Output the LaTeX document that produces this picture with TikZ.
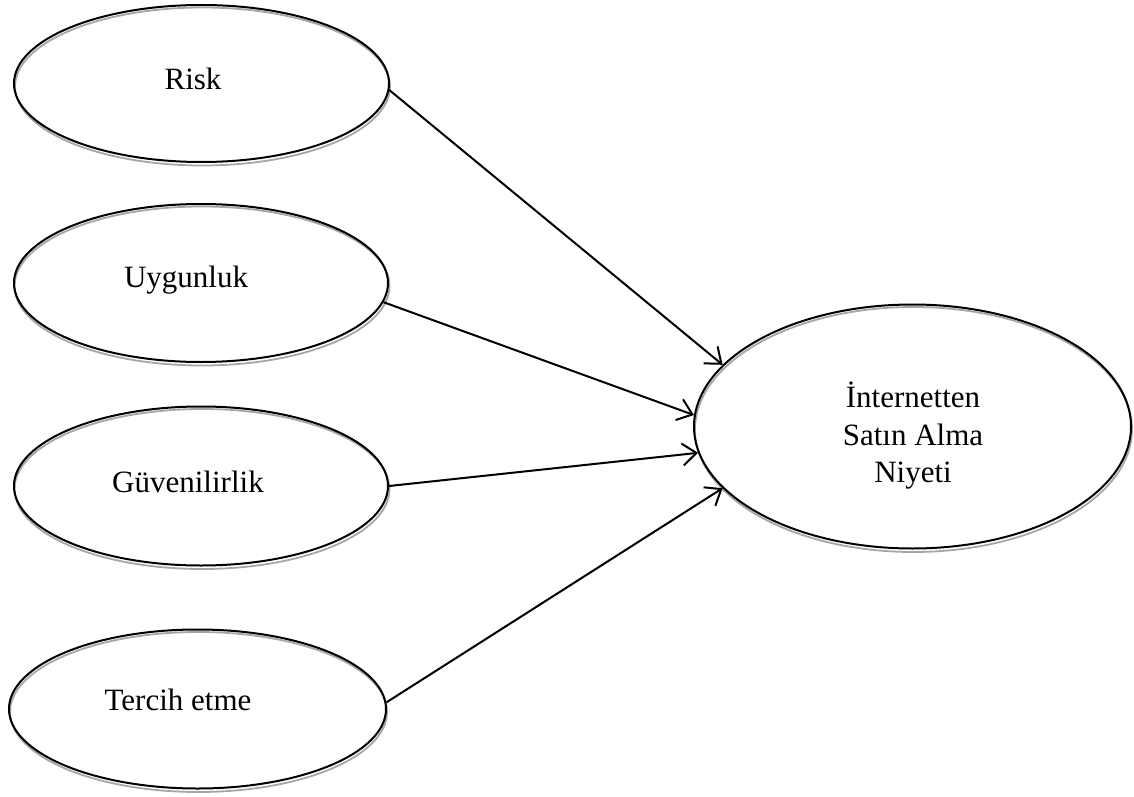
\documentclass[tikz,border=0pt]{standalone}
\usepackage{fontspec}
\setmainfont{Liberation Serif}
\usetikzlibrary{arrows.meta,shapes.geometric}
\begin{document}
\begin{tikzpicture}[x=1pt,y=-1pt,
  oval/.style={ellipse,draw=black,line width=2pt,inner sep=0pt},
  ovalshadow/.style={draw=gray!70,line width=1.8pt},
  lbl/.style={font=\fontsize{31}{37.5}\selectfont,inner sep=0pt,align=center},
  conn/.style={line width=2pt,-{Straight Barb[length=14pt,width=22pt,line width=2pt]}}]
\useasboundingbox (0,0) rectangle (1134,797);
% shadows
\draw[ovalshadow] (202.5,86.5) ellipse [x radius=187.5, y radius=79];
\draw[ovalshadow] (202,286) ellipse [x radius=187.5, y radius=79.5];
\draw[ovalshadow] (202,489) ellipse [x radius=187.5, y radius=80];
\draw[ovalshadow] (198.5,712) ellipse [x radius=188.5, y radius=80];
\draw[ovalshadow] (913.5,429.5) ellipse [x radius=218.5, y radius=122.5];
% ellipses
\node[oval,minimum width=375pt,minimum height=157pt] (r) at (201.5,83.5) {};
\node[oval,minimum width=374pt,minimum height=158pt] (u) at (201,283) {};
\node[oval,minimum width=374pt,minimum height=159pt] (g) at (201,486) {};
\node[oval,minimum width=377pt,minimum height=159pt] (te) at (197.5,709) {};
\node[oval,minimum width=437pt,minimum height=244pt] (t) at (912.5,426.5) {};
% labels
\node[lbl,anchor=base] (rl) at (193,90) {Risk};
\node[lbl,anchor=base] (ul) at (186,287) {Uygunluk};
\node[lbl,anchor=base] (gl) at (188,492) {Güvenilirlik};
\node[lbl,anchor=base] (tel) at (178,710) {Tercih etme};
\node[lbl] (tl) at (913,436) {İnternetten\\Satın Alma\\Niyeti};
% connectors
\draw[conn] (r.-2) -- (t.162.9);
\draw[conn] (u.-6) -- (t.177.2);
\draw[conn] (g.east) -- (t.-173);
\draw[conn] (te.2) -- (t.-162.9);
\end{tikzpicture}
\end{document}
